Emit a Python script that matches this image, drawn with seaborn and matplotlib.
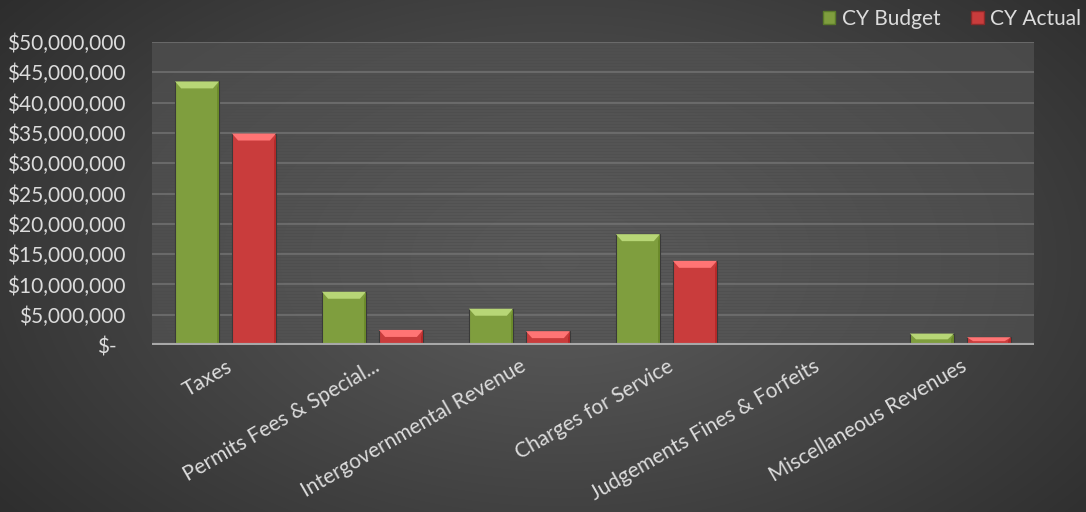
import numpy as np
import pandas as pd
import matplotlib
matplotlib.use("Agg")
import matplotlib.pyplot as plt
from matplotlib.patches import Polygon, Patch
from matplotlib.ticker import FuncFormatter
from matplotlib.transforms import ScaledTranslation
import seaborn as sns

# Revenue by category, budget vs actual (dollars)
categories = ["Taxes", "Permits Fees & Special...", "Intergovernmental Revenue",
              "Charges for Service", "Judgements Fines & Forfeits", "Miscellaneous Revenues"]
cy_budget = [43_500_000, 8_800_000, 6_000_000, 18_300_000, 150_000, 1_900_000]
cy_actual = [34_900_000, 2_500_000, 2_300_000, 13_900_000, 80_000, 1_300_000]
series_names = ["CY Budget", "CY Actual"]
y_ticks = list(range(0, 50_000_001, 5_000_000))

GREEN = "#7f9e3e"
RED = "#c93c3c"
TEXT = "#dcdcdc"

df = pd.DataFrame({
    "Category": categories * 2,
    "Amount": cy_budget + cy_actual,
    "Series": [series_names[0]] * len(categories) + [series_names[1]] * len(categories),
})

sns.set_theme(style="white")
plt.rcParams["font.family"] = ["Lato", "DejaVu Sans"]

fig = plt.figure(figsize=(10.86, 5.12), dpi=100)

# Dark radial background
bg = fig.add_axes([0, 0, 1, 1], zorder=-10)
yy, xx = np.mgrid[0:512, 0:1086]
r = np.sqrt(((xx - 560) / 700.0) ** 2 + ((yy - 260) / 420.0) ** 2)
shade = np.clip(0.37 - 0.19 * r, 0.17, 0.37)
bg.imshow(np.dstack([shade, shade, shade]), aspect="auto", extent=[0, 1, 0, 1])
bg.set_axis_off()

ax = fig.add_axes([0.140, 0.326, 0.812, 0.592])
ax.set_facecolor("none")

# Striped plot area
ax.axhspan(0, 50_000_000, color="#5a5a5a", alpha=0.55, zorder=0, lw=0)
for v in np.arange(0, 50_000_000, 500_000):
    ax.axhline(v, color="#4a4a4a", lw=0.9, alpha=0.45, zorder=0.5)
for v in y_ticks[1:]:
    ax.axhline(v, color="#787878", lw=1.2, alpha=0.8, zorder=0.6)

sns.barplot(data=df, x="Category", y="Amount", hue="Series", order=categories,
            hue_order=series_names, palette=[GREEN, RED], width=0.776, gap=0.227,
            edgecolor="#3a3a3a", linewidth=0.8, saturation=1, ax=ax, zorder=2,
            legend=False)

# Bevel highlights on each bar, taken from the drawn bar geometry
px_y = 50_000_000 / (0.592 * 512)
for container in ax.containers:
    for p in container.patches:
        x0 = p.get_x()
        w, h = p.get_width(), p.get_height()
        if h <= 0:
            continue
        base = p.get_facecolor()
        light = tuple(min(1, c + 0.22) for c in base[:3])
        dark = tuple(max(0, c - 0.12) for c in base[:3])
        dh = min(7 * px_y, h * 0.5)
        dx = w * 0.14
        ax.add_patch(Polygon([(x0, h), (x0 + w, h), (x0 + w - dx, h - dh), (x0 + dx, h - dh)],
                             closed=True, facecolor=light, edgecolor="none", zorder=3))
        ax.add_patch(Polygon([(x0 + w, h), (x0 + w, 0), (x0 + w - dx * 0.4, 0),
                              (x0 + w - dx * 0.4, h - dh)],
                             closed=True, facecolor=dark, edgecolor="none", alpha=0.6, zorder=3))

ax.axhline(0, color="#a8a8a8", lw=3, zorder=4)

ax.set_xlim(-0.5, len(categories) - 0.5)
ax.set_ylim(0, 50_000_000)
ax.set_yticks(y_ticks)
ax.yaxis.set_major_formatter(FuncFormatter(lambda v, _: "$-" if v == 0 else f"${v:,.0f}"))
ax.tick_params(axis="y", colors=TEXT, labelsize=15, length=0, pad=19)
ax.tick_params(axis="x", colors=TEXT, labelsize=15, length=0, pad=8)
plt.setp(ax.get_xticklabels(), rotation=30, ha="right", rotation_mode="anchor")
ax.set_xlabel("")
ax.set_ylabel("")
for s in ax.spines.values():
    s.set_visible(False)

# Accounting-style zero label sits left of the number column
zero_lbl = ax.yaxis.get_major_ticks()[0].label1
zero_lbl.set_transform(zero_lbl.get_transform() + ScaledTranslation(-0.09, 0, fig.dpi_scale_trans))

handles = [Patch(facecolor=GREEN, edgecolor="#5a7a2a"), Patch(facecolor=RED, edgecolor="#8a2a2a")]
fig.legend(handles, series_names, loc="upper right", bbox_to_anchor=(1.013, 1.02), ncol=2,
           frameon=False, fontsize=15, labelcolor=TEXT, handlelength=0.6,
           handleheight=0.6, handletextpad=0.3, columnspacing=1.5)

fig.savefig("out.png", dpi=100)
